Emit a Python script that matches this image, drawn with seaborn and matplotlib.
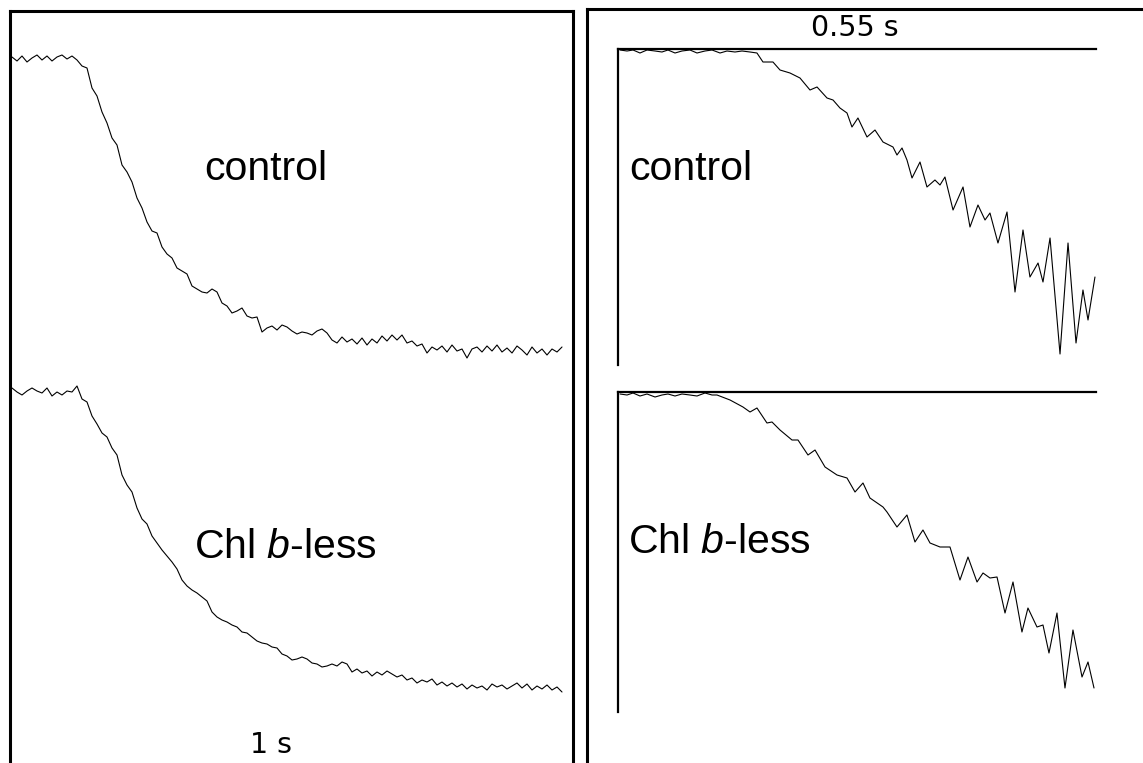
import numpy as np
import pandas as pd
import matplotlib
matplotlib.use("Agg")
import matplotlib.pyplot as plt
import seaborn as sns

# ---------------- data ----------------
# Left panel: fluorescence traces (a.u.), sampled every 0.05 s
left_dt = 0.05
left_control = [743, 739, 744, 738, 742, 745, 740, 744, 739, 743,
                745, 741, 744, 740, 734, 732, 712, 704, 688, 677,
                662, 655, 635, 628, 618, 602, 592, 578, 569, 567,
                553, 546, 542, 532, 529, 526, 514, 511, 508, 507,
                511, 508, 497, 494, 487, 489, 492, 484, 482, 483,
                468, 472, 474, 470, 475, 473, 469, 466, 468, 467,
                465, 469, 471, 467, 460, 457, 463, 458, 461, 456,
                462, 455, 461, 457, 464, 459, 465, 460, 465, 457,
                459, 454, 456, 447, 453, 450, 454, 448, 455, 449,
                451, 442, 451, 453, 448, 454, 449, 455, 448, 452,
                447, 454, 450, 445, 453, 447, 451, 445, 451, 448,
                453]
left_chlb = [412, 408, 405, 409, 412, 409, 407, 412, 404, 408,
             405, 409, 408, 414, 401, 398, 384, 376, 367, 363,
             352, 345, 325, 315, 308, 292, 281, 276, 264, 257,
             250, 244, 238, 231, 220, 214, 210, 207, 203, 199,
             188, 183, 180, 178, 175, 173, 168, 167, 163, 159,
             157, 156, 153, 152, 146, 144, 140, 141, 143, 141,
             137, 136, 133, 134, 136, 134, 138, 136, 128, 131,
             127, 129, 124, 128, 125, 129, 126, 123, 125, 120,
             122, 117, 120, 118, 121, 115, 118, 114, 117, 113,
             116, 111, 115, 112, 114, 110, 116, 113, 115, 111,
             114, 117, 112, 116, 110, 114, 111, 115, 110, 113,
             108]

# Right panel (expanded, 0.55 s window): time in ms, signal in a.u.
right_control_t = [2.3, 10.4, 17.3, 25.3, 33.4, 42.6, 50.6, 57.5, 65.6, 73.6,
                   82.8, 90.9, 100.1, 108.2, 117.4, 125.4, 134.6, 142.7, 151.9, 159.9,
                   166.8, 178.3, 186.4, 197.9, 209.4, 220.9, 229.0, 240.5, 247.4, 255.4,
                   263.5, 269.2, 276.1, 286.5, 295.7, 304.9, 316.4, 321.0, 326.8, 332.5,
                   338.3, 347.5, 355.5, 364.7, 370.5, 376.2, 385.5, 397.0, 405.0, 414.2,
                   422.3, 428.0, 437.2, 447.6, 456.8, 466.0, 474.0, 483.3, 489.0, 497.1,
                   508.6, 517.8, 527.0, 535.0, 540.8, 548.8]
right_control_v = [315, 314, 315, 312, 315, 314, 313, 315, 312, 314,
                   315, 312, 314, 315, 312, 314, 313, 314, 313, 312,
                   303, 303, 295, 292, 287, 275, 278, 267, 265, 257,
                   252, 238, 247, 228, 235, 223, 218, 210, 217, 205,
                   187, 203, 178, 185, 180, 188, 155, 178, 138, 160,
                   145, 152, 122, 153, 73, 135, 88, 102, 83, 127,
                   11, 122, 22, 75, 45, 88]
right_chlb_t = [2.3, 10.4, 17.3, 25.3, 33.4, 42.6, 50.6, 57.5, 65.6, 73.6,
                82.8, 90.9, 100.1, 108.2,
                113.9, 128.9, 143.8, 151.9, 159.9, 171.4, 177.2, 186.4, 200.2, 207.1,
                218.6, 226.7, 238.2, 252.0, 263.5, 272.7, 281.9, 289.9, 304.9, 309.5,
                321.0, 332.5, 341.7, 350.9, 359.0, 370.5, 382.0, 393.5, 402.7, 413.1,
                420.0, 428.0, 436.1, 445.3, 454.5, 464.8, 471.7, 482.1, 489.0, 495.9,
                505.1, 514.3, 523.5, 533.9, 540.8, 547.7]
right_chlb_v = [318, 317, 319, 316, 318, 315, 317, 318, 316, 318,
                317, 316, 319, 317,
                317, 312, 305, 300, 304, 289, 290, 282, 272, 272,
                257, 262, 245, 237, 234, 220, 229, 214, 205, 200,
                185, 197, 170, 182, 169, 165, 165, 132, 155, 130,
                139, 134, 135, 99, 130, 80, 104, 85, 87, 59,
                99, 24, 82, 35, 50, 24]

label_control = "control"
label_chlb = r"Chl $\mathit{b}$-less"
scale_left = "1 s"
scale_right = "0.55 s"

# ---------------- style ----------------
sns.set_style("white")
plt.rcParams['font.family'] = ['Liberation Sans', 'DejaVu Sans']
plt.rcParams['mathtext.fontset'] = 'custom'
plt.rcParams['mathtext.rm'] = 'Liberation Sans'
plt.rcParams['mathtext.it'] = 'Liberation Sans:italic'

W, H = 1143, 763
fig = plt.figure(figsize=(W / 100, H / 100), dpi=100)
fig.patch.set_facecolor('white')


def px_axes(x0, y0, x1, y1):
    ax = fig.add_axes([x0 / W, 1 - y1 / H, (x1 - x0) / W, (y1 - y0) / H])
    ax.set_facecolor('none')
    ax.set_xticks([])
    ax.set_yticks([])
    ax.set_xlabel('')
    ax.set_ylabel('')
    return ax


def style_spines(ax, visible, lw):
    for name, sp in ax.spines.items():
        sp.set_visible(name in visible)
        sp.set_linewidth(lw)
        sp.set_color('black')


TRACE_LW = 0.8

# ---- left panel ----
axL = px_axes(10, 11, 573, 763)
dfL = pd.DataFrame({
    't': np.concatenate([np.arange(len(left_control)) * left_dt,
                         np.arange(len(left_chlb)) * left_dt]),
    'F': left_control + left_chlb,
    'line': [label_control] * len(left_control) + ['chlb'] * len(left_chlb),
})
sns.lineplot(data=dfL, x='t', y='F', units='line', estimator=None, sort=False,
             color='black', lw=TRACE_LW, ax=axL, legend=False)
axL.set_xlim(-0.02, 5.61)
axL.set_ylim(37, 789)
axL.set_xticks([]); axL.set_yticks([]); axL.set_xlabel(''); axL.set_ylabel('')
style_spines(axL, ['left', 'top', 'right'], 2.2)

# ---- right outer box ----
axR = px_axes(587, 9, 1300, 900)
style_spines(axR, ['left', 'top'], 2.2)

# ---- right inner panels ----
axRC = px_axes(618, 49, 1096, 365)
sns.lineplot(x=right_control_t, y=right_control_v, sort=False, estimator=None,
             color='black', lw=TRACE_LW, ax=axRC)
axRC.set_xlim(0, 550)
axRC.set_ylim(0, 316)
axRC.set_xticks([]); axRC.set_yticks([]); axRC.set_xlabel(''); axRC.set_ylabel('')
style_spines(axRC, ['left', 'top'], 1.6)

axRB = px_axes(618, 392, 1096, 712)
sns.lineplot(x=right_chlb_t, y=right_chlb_v, sort=False, estimator=None,
             color='black', lw=TRACE_LW, ax=axRB)
axRB.set_xlim(0, 550)
axRB.set_ylim(0, 320)
axRB.set_xticks([]); axRB.set_yticks([]); axRB.set_xlabel(''); axRB.set_ylabel('')
style_spines(axRB, ['left', 'top'], 1.6)


# ---- text ----
def ftext(x, y, s, **kw):
    fig.text(x / W, 1 - y / H, s, ha='center', va='center', color='black', **kw)


ftext(266, 169, label_control, fontsize=29.5)
ftext(285, 547, label_chlb, fontsize=29.5)
ftext(691, 169, label_control, fontsize=29.5)
ftext(719, 542, label_chlb, fontsize=29.5)
ftext(855, 28, scale_right, fontsize=20.5, family=['DejaVu Sans'])
ftext(271, 745, scale_left, fontsize=20.5, family=['DejaVu Sans'])

fig.savefig("out.png", dpi=100, facecolor='white')
